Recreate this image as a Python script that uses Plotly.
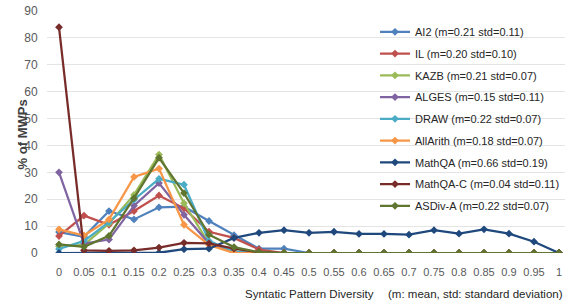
import plotly.graph_objects as go

x_vals = [0, 0.05, 0.1, 0.15, 0.2, 0.25, 0.3, 0.35, 0.4, 0.45, 0.5,
          0.55, 0.6, 0.65, 0.7, 0.75, 0.8, 0.85, 0.9, 0.95, 1]
x_labels = ["0", "0.05", "0.1", "0.15", "0.2", "0.25", "0.3", "0.35", "0.4", "0.45", "0.5",
            "0.55", "0.6", "0.65", "0.7", "0.75", "0.8", "0.85", "0.9", "0.95", "1"]
y_ticks = [0, 10, 20, 30, 40, 50, 60, 70, 80, 90]

ai2 = [7.8, 6.0, 15.6, 12.5, 17.0, 17.2, 11.9, 6.6, 1.6, 1.6, 0, 0, 0, 0, 0, 0, 0, 0, 0, 0, 0]
il = [6.3, 13.9, 10.5, 15.6, 21.4, 16.6, 7.9, 5.6, 1.3, 0, 0, 0, 0, 0, 0, 0, 0, 0, 0, 0, 0]
kazb = [2.5, 3.0, 11.0, 21.6, 36.6, 18.5, 3.5, 0.5, 0, 0, 0, 0, 0, 0, 0, 0, 0, 0, 0, 0, 0]
alges = [30.0, 3.5, 5.0, 17.6, 26.0, 14.2, 3.5, 0.3, 0, 0, 0, 0, 0, 0, 0, 0, 0, 0, 0, 0, 0]
draw = [1.5, 4.5, 11.5, 19.8, 27.6, 25.4, 4.5, 0.5, 0, 0, 0, 0, 0, 0, 0, 0, 0, 0, 0, 0, 0]
allarith = [8.8, 6.5, 12.5, 28.3, 31.4, 10.5, 3.0, 0, 0, 0, 0, 0, 0, 0, 0, 0, 0, 0, 0, 0, 0]
mathqa = [0, 0, 0, 0, 0.1, 1.4, 1.6, 5.6, 7.5, 8.5, 7.5, 7.9, 7.1, 7.1, 6.8, 8.5, 7.2, 8.8, 7.2, 4.2, 0]
mathqa_c = [84.0, 1.0, 0.8, 1.0, 2.0, 3.8, 3.6, 1.6, 0.3, 0, 0, 0, 0, 0, 0, 0, 0, 0, 0, 0, 0]
asdiv_a = [3.2, 2.3, 6.4, 20.4, 35.4, 22.3, 6.8, 2.2, 0.3, 0, 0, 0, 0, 0, 0, 0, 0, 0, 0, 0, 0]

series_names = ["AI2 (m=0.21 std=0.11)", "IL (m=0.20 std=0.10)", "KAZB (m=0.21 std=0.07)",
                "ALGES (m=0.15 std=0.11)", "DRAW (m=0.22 std=0.07)", "AllArith (m=0.18 std=0.07)",
                "MathQA (m=0.66 std=0.19)", "MathQA-C (m=0.04 std=0.11)", "ASDiv-A (m=0.22 std=0.07)"]
series_values = [ai2, il, kazb, alges, draw, allarith, mathqa, mathqa_c, asdiv_a]
series_colors = ["#4f81bd", "#c0504d", "#9bbb59", "#8064a2", "#4bacc6", "#f79646",
                 "#1f497d", "#772c2a", "#5f7530"]

FONT = "Liberation Sans, Arial, sans-serif"

fig = go.Figure()
for i, (name, vals, col) in enumerate(zip(series_names, series_values, series_colors)):
    fig.add_trace(go.Scatter(
        x=x_vals, y=vals, name=name, mode="lines+markers",
        line=dict(color=col, width=2.25),
        marker=dict(color=col, size=6, symbol="diamond"),
        legendgroup=f"g{i}",
    ))

fig.update_layout(
    width=565, height=306,
    margin=dict(l=47, r=0, t=11, b=53),
    paper_bgcolor="white", plot_bgcolor="white",
    font=dict(family=FONT, size=11, color="#595959"),
    showlegend=True,
    legend=dict(
        x=1.0, y=0.974, xanchor="right", yanchor="top",
        bgcolor="rgba(0,0,0,0)", borderwidth=0,
        font=dict(family=FONT, size=11, color="#262626"),
        tracegroupgap=2.75, itemwidth=30,
    ),
    xaxis=dict(
        range=[-0.024, 1.012], tickvals=x_vals, ticktext=x_labels, tickangle=0,
        showgrid=False, zeroline=False, showline=False,
        ticks="outside", ticklen=9, tickcolor="rgba(0,0,0,0)",
        tickfont=dict(family=FONT, size=11, color="#595959"),
        automargin=False,
    ),
    yaxis=dict(
        range=[0, 90], tickvals=y_ticks,
        showgrid=True, gridcolor="#e4e4e4", gridwidth=1,
        zeroline=False, showline=False,
        ticks="outside", ticklen=6, tickcolor="rgba(0,0,0,0)",
        tickfont=dict(family=FONT, size=12, color="#595959"),
        automargin=False,
    ),
    annotations=[
        dict(text="<b>% of MWPs</b>", textangle=-90, xref="paper", yref="paper",
             x=(22 - 47) / 518, y=0.49, xanchor="center", yanchor="middle",
             showarrow=False, font=dict(family=FONT, size=13, color="#404040")),
        dict(text="Syntatic Pattern Diversity", xref="paper", yref="paper",
             x=(309 - 47) / 518, y=-(294 - 252.7) / 242, xanchor="center", yanchor="middle",
             showarrow=False, font=dict(family=FONT, size=11.5, color="#262626")),
        dict(text="(m: mean, std: standard deviation)", xref="paper", yref="paper",
             x=1.0, y=-(294 - 252.7) / 242, xanchor="right", yanchor="middle",
             showarrow=False, font=dict(family=FONT, size=11.5, color="#262626")),
    ],
)

fig.write_html("out.html", config={"displayModeBar": False},
               post_script="document.body.style.margin='0';")
